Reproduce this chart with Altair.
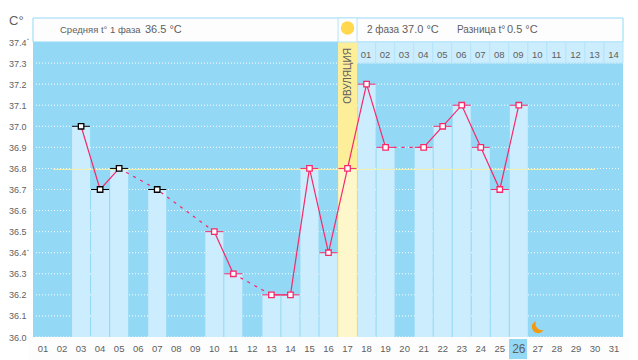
import altair as alt
import pandas as pd

days = [3, 4, 5, 7, 10, 11, 13, 14, 15, 16, 17, 18, 19, 21, 22, 23, 24, 25, 26]
temps = [37.0, 36.7, 36.8, 36.7, 36.5, 36.3, 36.2, 36.2, 36.8, 36.4, 36.8, 37.2, 36.9, 36.9, 37.0, 37.1, 36.9, 36.7, 37.1]
black_days = [3, 4, 5, 7]
solid_runs = [[3, 4, 5], [10, 11], [13, 14, 15, 16, 17, 18, 19], [21, 22, 23, 24, 25, 26]]
dashed_runs = [[5, 7, 10], [11, 13], [19, 21]]
all_days = list(range(1, 32))
phase_days = list(range(18, 32))
phase_labels = ["01", "02", "03", "04", "05", "06", "07", "08", "09", "10", "11", "12", "13", "14"]
grid_values = [36.0, 36.1, 36.2, 36.3, 36.4, 36.5, 36.6, 36.7, 36.8, 36.9, 37.0, 37.1, 37.2, 37.3]
y_ticks = grid_values + [37.4]
dot_values = [37.4, 36.4]

BLUE = "#93D8F5"
PALE = "#CCEDFD"
PINK = "#F7296A"
TEXT = "#5f5f5f"
FONT = "Liberation Sans"

temp_of = dict(zip(days, temps))
points = pd.DataFrame({
    "day": days,
    "temp": temps,
    "base": 36.0,
    "left": [d - 0.45 for d in days],
    "right": [d + 0.5 for d in days],
    "group": ["early" if d in black_days else "late" for d in days],
    "kind": ["ovulation" if d == 17 else "normal" for d in days],
})
solid = pd.DataFrame([{"run": i, "day": d, "temp": temp_of[d]} for i, r in enumerate(solid_runs) for d in r])
dashed = pd.DataFrame([{"run": i, "day": d, "temp": temp_of[d]} for i, r in enumerate(dashed_runs) for d in r])

xs = alt.Scale(domain=[0.5, 31.5], range=[0, 590], nice=False, zero=False, padding=0)
ys = alt.Scale(domain=[36.0, 37.4], range=[295, 0], nice=False, zero=False, padding=0)
ONE = alt.Data(values=[{"a": 1}])

x_axis = alt.Axis(
    values=all_days, labelExpr="(datum.value < 10 ? '0' : '') + datum.value",
    domain=False, ticks=False, grid=False, labelPadding=6, labelFont=FONT,
    labelFontSize={"condition": {"test": "datum.value == 26", "value": 12}, "value": 9.5},
    labelColor=TEXT, labelOverlap=False, labelFlush=False, labelBound=False, zindex=2,
)
y_axis = alt.Axis(
    values=y_ticks, format=".1f", domain=False, ticks=False, grid=False, labelPadding=7,
    labelFont=FONT, labelFontSize=9, labelColor=TEXT, labelOverlap=False,
    labelFlush=False, labelBound=False, zindex=2,
)
X = alt.X("day:Q", scale=xs, title=None, axis=x_axis)
Y = alt.Y("temp:Q", scale=ys, title=None, axis=y_axis)


def box(x0, x1, y0, y1, fill, **kw):
    return alt.Chart(ONE).mark_rect(fill=fill, **kw).encode(
        x=alt.value(x0), x2=alt.value(x1), y=alt.value(y0), y2=alt.value(y1))


def label(text, x, y, size=10, align="left", **kw):
    return alt.Chart(ONE).mark_text(
        text=text, font=FONT, fontSize=size, color=TEXT, align=align, baseline="middle", **kw
    ).encode(x=alt.value(x), y=alt.value(y))


background = box(0, 590, 0, 295, BLUE)
bottom_row = box(-5, 597, 295, 318, "#FDFDFD")
header = box(0, 590, -24, 0, "#FDFDFD", stroke=BLUE, strokeWidth=1)

grid = alt.Chart(pd.DataFrame({"temp": grid_values})).mark_rule(
    color="white", strokeDash=[1, 2], strokeWidth=1
).encode(x=alt.value(3), x2=alt.value(588), y=Y)

phase_cells = alt.Chart(pd.DataFrame({"day": phase_days, "temp": 37.4, "low": 37.3})).mark_bar(
    width=19, fill=PALE, stroke="#B5E5FA", strokeWidth=1
).encode(x=X, y=Y, y2="low:Q")
phase_text = alt.Chart(pd.DataFrame({"day": phase_days, "t": phase_labels})).mark_text(
    font=FONT, fontSize=9.5, color=TEXT, baseline="middle"
).encode(x=X, y=alt.value(13), text="t:N")

ov_col = alt.Chart(pd.DataFrame({"day": [17], "temp": [37.4], "low": [36.0]})).mark_bar(
    width=19, xOffset=0.5, fill="#FDEE9A"
).encode(x=X, y=Y, y2="low:Q")
ov_cell = alt.Chart(pd.DataFrame({"day": [17]})).mark_bar(
    width=19, xOffset=0.5, fill="#FDFDFD", stroke="#B5E5FA", strokeWidth=1
).encode(x=X, y=alt.value(-24), y2=alt.value(0))

bars = alt.Chart(points).mark_bar(width=18, xOffset=0.5).encode(
    x=X, y=Y, y2="base:Q",
    color=alt.Color("kind:N", legend=None,
                    scale=alt.Scale(domain=["normal", "ovulation"], range=[PALE, "#FFF7CC"])),
)
cover = alt.Chart(pd.DataFrame({"temp": [36.8]})).mark_rule(
    color="#F4F1A6", strokeWidth=1, yOffset=1
).encode(x=alt.value(20), x2=alt.value(562), y=Y)

edge_scale = alt.Scale(domain=["early", "late"], range=["#000000", PINK])
ticks = alt.Chart(points).mark_rule(strokeWidth=1).encode(
    x=alt.X("left:Q", scale=xs, title=None, axis=x_axis), x2="right:Q", y=Y,
    color=alt.Color("group:N", legend=None, scale=edge_scale),
)
line_solid = alt.Chart(solid).mark_line(color=PINK, strokeWidth=1.2, xOffset=0.5).encode(x=X, y=Y, detail="run:N")
line_dashed = alt.Chart(dashed).mark_line(color=PINK, strokeWidth=1.2, strokeDash=[3, 5], xOffset=0.5).encode(x=X, y=Y, detail="run:N")
markers = alt.Chart(points).mark_point(shape="square", filled=False, fill="white", fillOpacity=1, size=30, strokeWidth=1.3, opacity=1, xOffset=0.5).encode(
    x=X, y=Y, stroke=alt.Color("group:N", legend=None, scale=edge_scale),
)

dots = alt.Chart(pd.DataFrame({"temp": dot_values})).mark_text(
    text=".", font=FONT, fontSize=10, color=TEXT, align="center", baseline="bottom"
).encode(x=alt.value(-5), y=Y)

sun = alt.Chart(pd.DataFrame({"day": [17]})).mark_circle(size=180, color="#FFD84D", opacity=1, xOffset=0.5).encode(
    x=X, y=alt.value(-14))
moon_disc = alt.Chart(pd.DataFrame({"day": [27]})).mark_circle(size=154, color="#F39A12", opacity=1, xOffset=0.7).encode(
    x=X, y=alt.value(285))
moon_mask = alt.Chart(pd.DataFrame({"day": [27]})).mark_circle(size=177, color=BLUE, opacity=1, xOffset=4.7).encode(
    x=X, y=alt.value(281.5))
ovulation = alt.Chart(pd.DataFrame({"day": [17]})).mark_text(
    text="ОВУЛЯЦИЯ", angle=270, font=FONT, fontSize=10, color=TEXT, baseline="middle", xOffset=0.5
).encode(x=X, y=alt.value(34))

chart = alt.layer(
    bottom_row, background, header, grid, phase_cells, phase_text, ov_col, ov_cell,
    bars, cover, ticks, line_solid, line_dashed, markers, dots, sun, moon_disc, moon_mask, ovulation,
    box(476, 494, 297, 317, BLUE),
    label("C°", -24, -21, size=13),
    label("Средняя t° 1 фаза", 27, -12, size=9.5),
    label("36.5 °C", 112, -12, size=11),
    label("2 фаза", 334, -12, size=10),
    label("37.0 °C", 369, -12, size=11),
    label("Разница t°", 424, -12, size=10),
    label("0.5 °C", 474, -12, size=11),
).resolve_scale(color="independent").properties(
    width=590, height=295, autosize="none",
    padding={"left": 25, "top": 34, "right": 7, "bottom": 23},
    background="white",
).configure_view(stroke=None).configure_axis(labelOverlap=False)

chart.save("out.html", embed_options={"renderer": "svg", "actions": False})
